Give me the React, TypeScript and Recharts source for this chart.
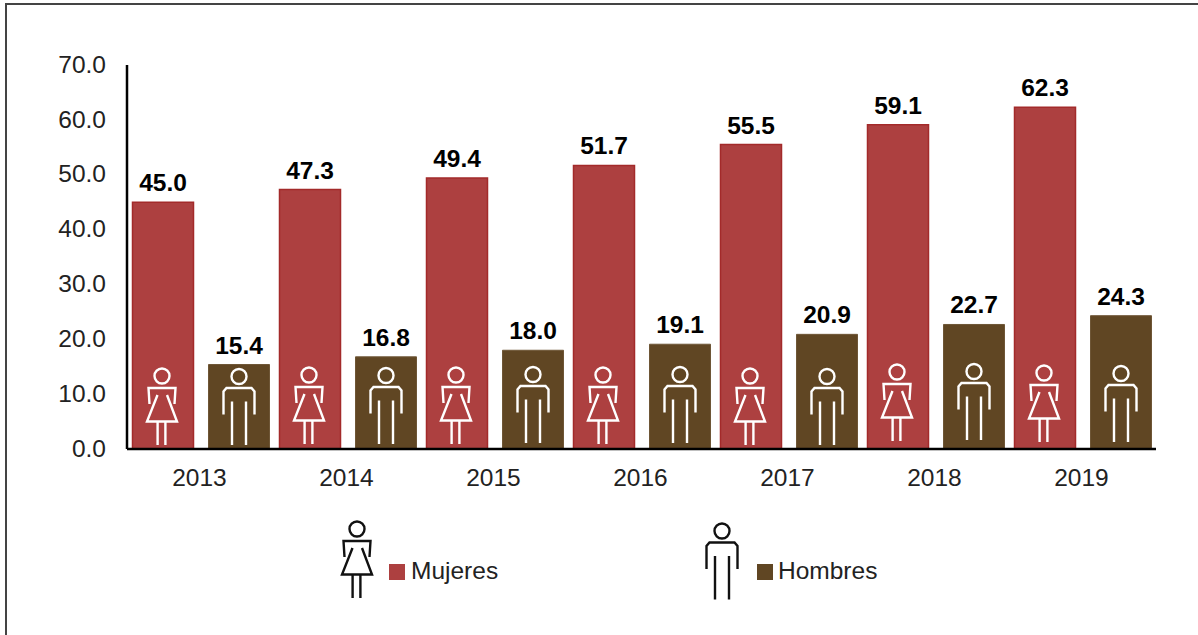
import React from 'react';
import { BarChart, Bar, XAxis, YAxis, LabelList, Legend, Rectangle } from 'recharts';

const years = ['2013', '2014', '2015', '2016', '2017', '2018', '2019'];
const mujeres = [45.0, 47.3, 49.4, 51.7, 55.5, 59.1, 62.3];
const hombres = [15.4, 16.8, 18.0, 19.1, 20.9, 22.7, 24.3];
const yTicks = [0, 10, 20, 30, 40, 50, 60, 70];

const chartData = years.map((year, i) => ({ year, Mujeres: mujeres[i], Hombres: hombres[i] }));

const FONT = '"Liberation Sans", Arial, sans-serif';
const RED = '#AD4040';
const RED_EDGE = '#A32A2A';
const BROWN = '#604623';
const BROWN_EDGE = '#6E5636';

// the pictograms do not sit at the same height in every bar
const womanLift = [0, 1, 1, 1, 0, 4, 3];
const manLift = [0, 1, 2, 2, 0, 5, 3];

function WomanIcon({ x, y, color }: { x: number; y: number; color: string }) {
  return (
    <g transform={`translate(${x},${y})`} fill="none" stroke={color} strokeWidth={2.4}>
      <circle cx={0} cy={0} r={7.5} />
      <path d="M-12.5 28 L-13.5 12 L13.5 12 L12.5 28" />
      <path d="M-4.5 19 L-15 45.5 L15 45.5 L5 19" />
      <path d="M-4.4 46 V69 M3.4 46 V69" />
    </g>
  );
}

function ManIcon({ x, y, color }: { x: number; y: number; color: string }) {
  return (
    <g transform={`translate(${x},${y})`} fill="none" stroke={color} strokeWidth={2.4}>
      <circle cx={0} cy={0} r={7.5} />
      <path d="M-15.5 38 L-15.5 15 L-12.5 11.5 L12.5 11.5 L15.5 15 L15.5 38" />
      <path d="M-7 25 V68.5 M7 25 V68.5" />
    </g>
  );
}

function WomanBar(props: any) {
  const { x, y, width, height, index } = props;
  return (
    <g>
      <Rectangle x={x + 0.5} y={y} width={width - 1} height={height} fill={RED} stroke={RED_EDGE} strokeWidth={1.5} />
      <WomanIcon x={x + width / 2 - 1} y={y + height - 73 - womanLift[index]} color="#fff" />
    </g>
  );
}

function ManBar(props: any) {
  const { x, y, width, height, index } = props;
  return (
    <g>
      <Rectangle x={x + 0.5} y={y} width={width - 1} height={height} fill={BROWN} stroke={BROWN_EDGE} strokeWidth={1} />
      <ManIcon x={x + width / 2} y={y + height - 72.5 - manLift[index]} color="#fff" />
    </g>
  );
}

function ChartLegend({ payload }: any) {
  const items = payload || [];
  const spots: Record<string, { icon: number; box: number; gap: number }> = {
    Mujeres: { icon: 357, box: 389, gap: 22 },
    Hombres: { icon: 722, box: 757, gap: 21 },
  };
  return (
    <svg width={1198} height={126} style={{ display: 'block' }}>
      {items.map((item: any) => {
        const spot = spots[item.value];
        if (!spot) return null;
        return (
          <g key={item.value}>
            {item.value === 'Mujeres' ? (
              <WomanIcon x={spot.icon} y={20} color="#111" />
            ) : (
              <ManIcon x={spot.icon} y={22} color="#111" />
            )}
            <rect x={spot.box} y={55} width={16} height={16} fill={item.color} />
            <text x={spot.box + spot.gap} y={70} fontFamily={FONT} fontSize={24.5} fill="#222">
              {item.value}
            </text>
          </g>
        );
      })}
    </svg>
  );
}

export default function App() {
  return (
    <div style={{ position: 'absolute', left: 0, top: 0, width: 1198, height: 635, overflow: 'hidden', background: '#fff' }}>
      <div
        style={{
          position: 'absolute',
          left: 5,
          top: 3,
          width: 1300,
          height: 800,
          borderLeft: '2px solid #444',
          borderTop: '2px solid #444',
        }}
      />
      <BarChart
        width={1198}
        height={635}
        data={chartData}
        barSize={62}
        barGap={14}
        margin={{ top: 65, right: 42, bottom: 0, left: 0 }}
        style={{ position: 'absolute', left: 0, top: 0, fontFamily: FONT }}
      >
        <XAxis
          dataKey="year"
          height={60}
          tickLine={false}
          tickSize={0}
          tickMargin={20}
          axisLine={{ stroke: '#000', strokeWidth: 2.5 }}
          tick={{ fontSize: 24.5, fill: '#222', fontFamily: FONT, dx: -1 }}
        />
        <YAxis
          width={127}
          domain={[0, 70]}
          ticks={yTicks}
          interval={0}
          tickLine={false}
          tickSize={0}
          tickMargin={21}
          tickFormatter={(v: number) => v.toFixed(1)}
          axisLine={{ stroke: '#000', strokeWidth: 2.5 }}
          tick={{ fontSize: 24.5, fill: '#222', fontFamily: FONT, dy: -1 }}
        />
        <Legend
          verticalAlign="bottom"
          height={126}
          content={<ChartLegend />}
          wrapperStyle={{ left: 0, top: 509, width: 1198 }}
        />
        <Bar dataKey="Mujeres" fill={RED} shape={<WomanBar />} isAnimationActive={false}>
          <LabelList
            dataKey="Mujeres"
            position="top"
            offset={11}
            formatter={(v: number) => v.toFixed(1)}
            style={{ fontSize: 24.5, fontWeight: 700, fill: '#000', fontFamily: FONT }}
          />
        </Bar>
        <Bar dataKey="Hombres" fill={BROWN} shape={<ManBar />} isAnimationActive={false}>
          <LabelList
            dataKey="Hombres"
            position="top"
            offset={11}
            formatter={(v: number) => v.toFixed(1)}
            style={{ fontSize: 24.5, fontWeight: 700, fill: '#000', fontFamily: FONT }}
          />
        </Bar>
      </BarChart>
    </div>
  );
}
